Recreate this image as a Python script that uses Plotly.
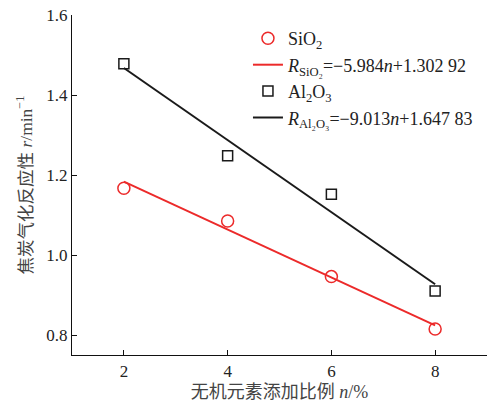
import plotly.graph_objects as go

# data
n_pct = [2, 4, 6, 8]
r_sio2 = [1.167, 1.085, 0.946, 0.815]
r_al2o3 = [1.478, 1.248, 1.152, 0.910]

# fitted equations given in the legend (n as mass fraction)
fit_sio2 = (-5.984, 1.30292)
fit_al2o3 = (-9.013, 1.64783)

x_ticks = [2, 4, 6, 8]
y_ticks = [0.8, 1.0, 1.2, 1.4, 1.6]

RED = "#ec2a2a"
BLACK = "#1a1a1a"
FONT = "Liberation Serif, Times New Roman, Noto Sans CJK SC, serif"


def fit_line(coef, xs):
    a, b = coef
    return [a * x / 100.0 + b for x in xs]


x_fit = [n_pct[0], n_pct[-1]]

fig = go.Figure()
fig.add_trace(go.Scatter(
    x=n_pct, y=r_sio2, mode="markers", name="SiO<sub>2</sub>", legendgroup="a",
    marker=dict(symbol="circle-open", size=12, color=RED, line=dict(width=1.5, color=RED)),
))
fig.add_trace(go.Scatter(
    x=x_fit, y=fit_line(fit_sio2, x_fit), mode="lines", legendgroup="b",
    name="<i>R</i><sub>SiO₂</sub>=−5.984<i>n</i>+1.302 92",
    line=dict(color=RED, width=2),
))
fig.add_trace(go.Scatter(
    x=n_pct, y=r_al2o3, mode="markers", name="Al<sub>2</sub>O<sub>3</sub>", legendgroup="c",
    marker=dict(symbol="square-open", size=10, color=BLACK, line=dict(width=1.5, color=BLACK)),
))
fig.add_trace(go.Scatter(
    x=x_fit, y=fit_line(fit_al2o3, x_fit), mode="lines", legendgroup="d",
    name="<i>R</i><sub>Al₂O₃</sub>=−9.013<i>n</i>+1.647 83",
    line=dict(color=BLACK, width=2),
))

axis_common = dict(
    showline=True, linecolor="#111", linewidth=1.2,
    ticks="inside", ticklen=5, tickwidth=1, tickcolor="#111",
    showgrid=False, zeroline=False, mirror=False, automargin=False,
    ticklabeloverflow="allow",
    tickfont=dict(family=FONT, size=17, color="#222"),
)

fig.update_layout(
    width=487, height=406,
    margin=dict(l=72, r=0, t=15, b=51),
    paper_bgcolor="white", plot_bgcolor="white",
    font=dict(family=FONT, size=17, color="#222"),
    xaxis=dict(range=[1, 9], tickvals=x_ticks,
               title=dict(text="无机元素添加比例 <i>n</i>/%", font=dict(family=FONT, size=18, color="#444"), standoff=5),
               **axis_common),
    yaxis=dict(range=[0.75, 1.6], tickvals=y_ticks, tickformat=".1f",
               title=dict(text="焦炭气化反应性 <i>r</i>/min<sup>−1</sup>", font=dict(family=FONT, size=17.5, color="#444"), standoff=9),
               **axis_common),
    legend=dict(x=0.424, y=0.985, xanchor="left", yanchor="top",
                bgcolor="rgba(0,0,0,0)", borderwidth=0,
                traceorder="grouped", tracegroupgap=0,
                font=dict(family=FONT, size=18, color="#222")),
    showlegend=True,
)

fig.write_html("out.html", config={"displayModeBar": False},
               post_script="document.body.style.margin='0';")
